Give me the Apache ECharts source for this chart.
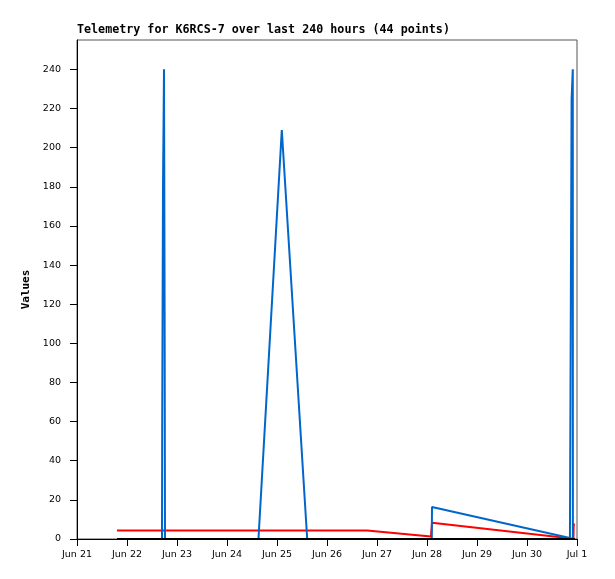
<!DOCTYPE html>
<html>
<head>
<meta charset="utf-8">
<script src="https://cdn.jsdelivr.net/npm/echarts@6/dist/echarts.min.js"></script>
<style>
html,body{margin:0;padding:0;background:#fff;}
#chart{width:615px;height:579px;}
</style>
</head>
<body>
<div id="chart"></div>
<script>
// x positions are hours since Jun 21 00:00
const xTickLabels = ["Jun 21","Jun 22","Jun 23","Jun 24","Jun 25","Jun 26","Jun 27","Jun 28","Jun 29","Jun 30","Jul 1"];
const yTickValues = [0,20,40,60,80,100,120,140,160,180,200,220,240];

const redHours  = [19.2, 139.2, 169.9, 170.4, 237.3, 238.3, 238.4, 239];
const redValues = [4.4, 4.4, 1.3, 8.3, 0.3, 0.3, 7.4, 7.4];

const blueHours  = [19.2, 40.8, 40.9, 41.28, 41.76, 42.05, 42.24, 87.1, 98.3, 110.5, 170.3, 170.4, 236.6, 237.3, 237.41, 237.98, 238.03, 239];
const blueValues = [0, 0, 60, 180, 240, 120, 0, 0, 209, 0, 0, 16.4, 0.5, 0.3, 225, 240, 0, 0];

const blackHours  = [19.2, 239];
const blackValues = [0, 0];

function zip(h, v){ return h.map((x,i)=>[x, v[i]]); }

const chart = echarts.init(document.getElementById('chart'), null, {renderer:'canvas'});
const labelFont = {fontFamily:'DejaVu Sans', fontSize:9.5, color:'#000'};
chart.setOption({
  animation:false,
  backgroundColor:'#fff',
  title:{
    text:'Telemetry for K6RCS-7 over last 240 hours (44 points)',
    left:77, top:24, padding:0,
    textStyle:{fontFamily:'DejaVu Sans Mono', fontWeight:'bold', fontSize:11.7, color:'#000'}
  },
  grid:{left:77, top:40, width:500, height:499, show:true, borderColor:'#555', borderWidth:1, backgroundColor:'transparent'},
  xAxis:{
    type:'value', min:0, max:240, interval:24,
    axisLine:{show:true, lineStyle:{color:'#000', width:1}},
    axisTick:{show:true, length:7, lineStyle:{color:'#000'}},
    splitLine:{show:false},
    axisLabel:Object.assign({margin:11, formatter:(v)=>xTickLabels[Math.round(v/24)]}, labelFont)
  },
  yAxis:{
    type:'value', min:0, max:255, interval:20,
    name:'Values', nameLocation:'middle', nameRotate:90, nameGap:43,
    nameTextStyle:{fontFamily:'DejaVu Sans Mono', fontWeight:'bold', fontSize:11, color:'#000'},
    axisLine:{show:true, lineStyle:{color:'#000', width:1}},
    axisTick:{show:true, length:7, customValues:yTickValues, lineStyle:{color:'#000'}},
    splitLine:{show:false},
    axisLabel:Object.assign({margin:16, customValues:yTickValues}, labelFont)
  },
  series:[
    {name:'red', type:'line', data:zip(redHours, redValues), showSymbol:false, symbol:'none',
     lineStyle:{color:'#ff0000', width:2}, z:2},
    {name:'blue', type:'line', data:zip(blueHours, blueValues), showSymbol:false, symbol:'none',
     lineStyle:{color:'#0066cc', width:2}, z:3},
    {name:'black', type:'line', data:zip(blackHours, blackValues), showSymbol:false, symbol:'none',
     lineStyle:{color:'#000000', width:2}, z:4}
  ]
});
</script>
</body>
</html>
